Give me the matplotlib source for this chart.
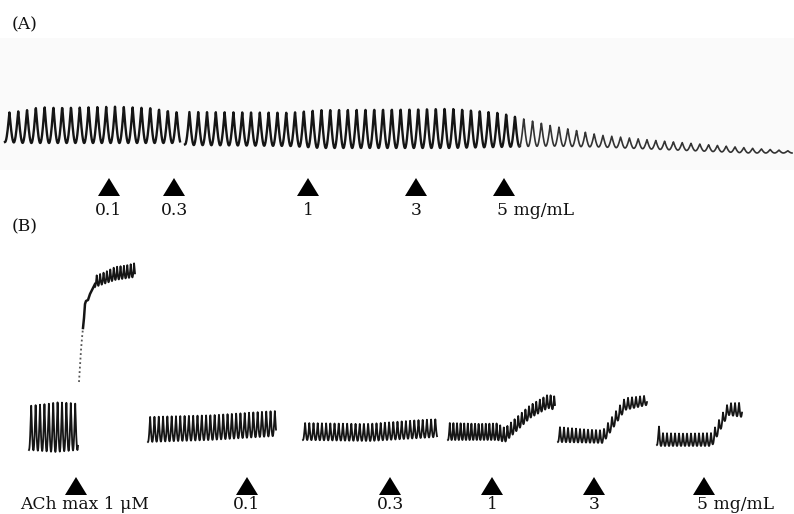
import numpy as np
import matplotlib
matplotlib.use("Agg")
import matplotlib.pyplot as plt
from matplotlib.patches import Polygon, Rectangle

# ---------------- data ----------------
# Panel A: spontaneous contractions, envelope of the recording (time position, peak level, trough level)
a_segments = [(5, 180), (185, 792)]
a_knot_x   = [5, 25, 40, 150, 178, 188, 290, 320, 450, 500, 550, 600, 650, 700, 750, 792]
a_knot_top = [113, 110, 106, 107, 111, 112, 112, 109, 107, 112, 125, 135, 140, 144, 148, 151]
a_knot_bot = [142, 143, 143, 143, 143, 145, 146, 148, 148, 147, 146, 147, 149, 151, 153, 153]
a_period = 8.8
a_dose_x = [109, 174, 308, 416, 504]
a_dose_labels = ["0.1", "0.3", "1", "3", "5 mg/mL"]

# Panel B: separate recordings (start, end, period, envelope knots)
b_segments = [
    # ACh baseline
    dict(x0=29, x1=78, period=4.4, kx=[29, 55, 78], top=[406, 400, 404], bot=[450, 452, 450]),
    # ACh plateau
    dict(x0=95, x1=135, period=3.4, kx=[95, 115, 135], top=[276, 267, 263], bot=[287, 280, 277]),
    # 0.1
    dict(x0=148, x1=276, period=4.3, kx=[148, 210, 276], top=[417, 414, 411], bot=[442, 440, 436]),
    # 0.3
    dict(x0=303, x1=437, period=4.2, kx=[303, 370, 437], top=[423, 423, 419], bot=[440, 441, 437]),
    # 1
    dict(x0=448, x1=555, period=3.6, kx=[448, 497, 505, 530, 548, 555],
         top=[423, 423, 428, 405, 394, 396], bot=[440, 440, 442, 418, 408, 410]),
    # 3
    dict(x0=558, x1=647, period=4.0, kx=[558, 603, 625, 647],
         top=[427, 430, 398, 395], bot=[442, 443, 410, 405]),
    # 5
    dict(x0=657, x1=742, period=4.0, kx=[657, 661, 712, 728, 742],
         top=[420, 433, 433, 403, 402], bot=[445, 446, 446, 415, 417]),
]
# ACh contracture rise (time position, level)
ach_rise_x = [79, 80, 81, 82, 83]
ach_rise_y = [382, 366, 350, 338, 328]
ach_jump_x = [83, 84, 85, 86, 88, 90, 92, 95]
ach_jump_y = [328, 318, 304, 301, 300, 294, 290, 284]

b_dose_x = [76, 247, 390, 492, 594, 704]
b_dose_labels = ["ACh max 1 \u03bcM", "0.1", "0.3", "1", "3", "5 mg/mL"]

panel_labels = ["(A)", "(B)"]

# ---------------- drawing ----------------
W, H = 794, 514
fig = plt.figure(figsize=(W / 100, H / 100), dpi=100)
ax = fig.add_axes([0, 0, 1, 1])
ax.set_xlim(0, W)
ax.set_ylim(H, 0)
ax.axis("off")

FONT = dict(family="DejaVu Serif", fontsize=12.3, color="#111111")


def osc(x0, x1, period, kx, ktop, kbot):
    n = max(int((x1 - x0) / period * 30), 50)
    x = np.linspace(x0, x1, n)
    phi = ((x - x0) / period) % 1.0
    s = 1 - np.abs(np.cos(np.pi * phi))
    top = np.interp(x, kx, ktop)
    bot = np.interp(x, kx, kbot)
    return x, bot + (top - bot) * s


# faint paper background of panel A
ax.add_patch(Rectangle((0, 38), W, 132, facecolor="#fafafa", edgecolor="none", zorder=0))

# Panel A trace
for (x0, x1) in a_segments:
    x, y = osc(x0, x1, a_period, a_knot_x, a_knot_top, a_knot_bot)
    m = x <= 520
    ax.plot(x[m], y[m], color="#151515", lw=1.7, solid_joinstyle="round")
    m2 = x >= 519
    if m2.any():
        ax.plot(x[m2], y[m2], color="#333333", lw=1.2)

# Panel B traces
for seg in b_segments:
    x, y = osc(seg["x0"], seg["x1"], seg["period"], seg["kx"], seg["top"], seg["bot"])
    ax.plot(x, y, color="#151515", lw=1.3)
ax.plot(ach_rise_x, ach_rise_y, color="#555555", lw=1.3, ls=(0, (1, 1.5)))
ax.plot(ach_jump_x, ach_jump_y, color="#151515", lw=1.8)


def arrows(xs, labels, y_top, y_bot, y_text):
    for i, (x, lab) in enumerate(zip(xs, labels)):
        ax.add_patch(Polygon([(x - 11, y_bot), (x + 11, y_bot), (x, y_top)],
                             closed=True, facecolor="black", edgecolor="none"))
        if lab.startswith("ACh"):
            ax.text(20, y_text, lab, ha="left", va="baseline", **FONT)
        elif "mg" in lab:
            ax.text(x - 7, y_text, lab, ha="left", va="baseline", **FONT)
        else:
            ax.text(x, y_text, lab, ha="center", va="baseline", **FONT)


arrows(a_dose_x, a_dose_labels, 178, 196, 215)
arrows(b_dose_x, b_dose_labels, 477, 495, 509)

ax.text(12, 29, panel_labels[0], ha="left", va="baseline", **FONT)
ax.text(12, 231, panel_labels[1], ha="left", va="baseline", **FONT)

fig.savefig("out.png", dpi=100)
